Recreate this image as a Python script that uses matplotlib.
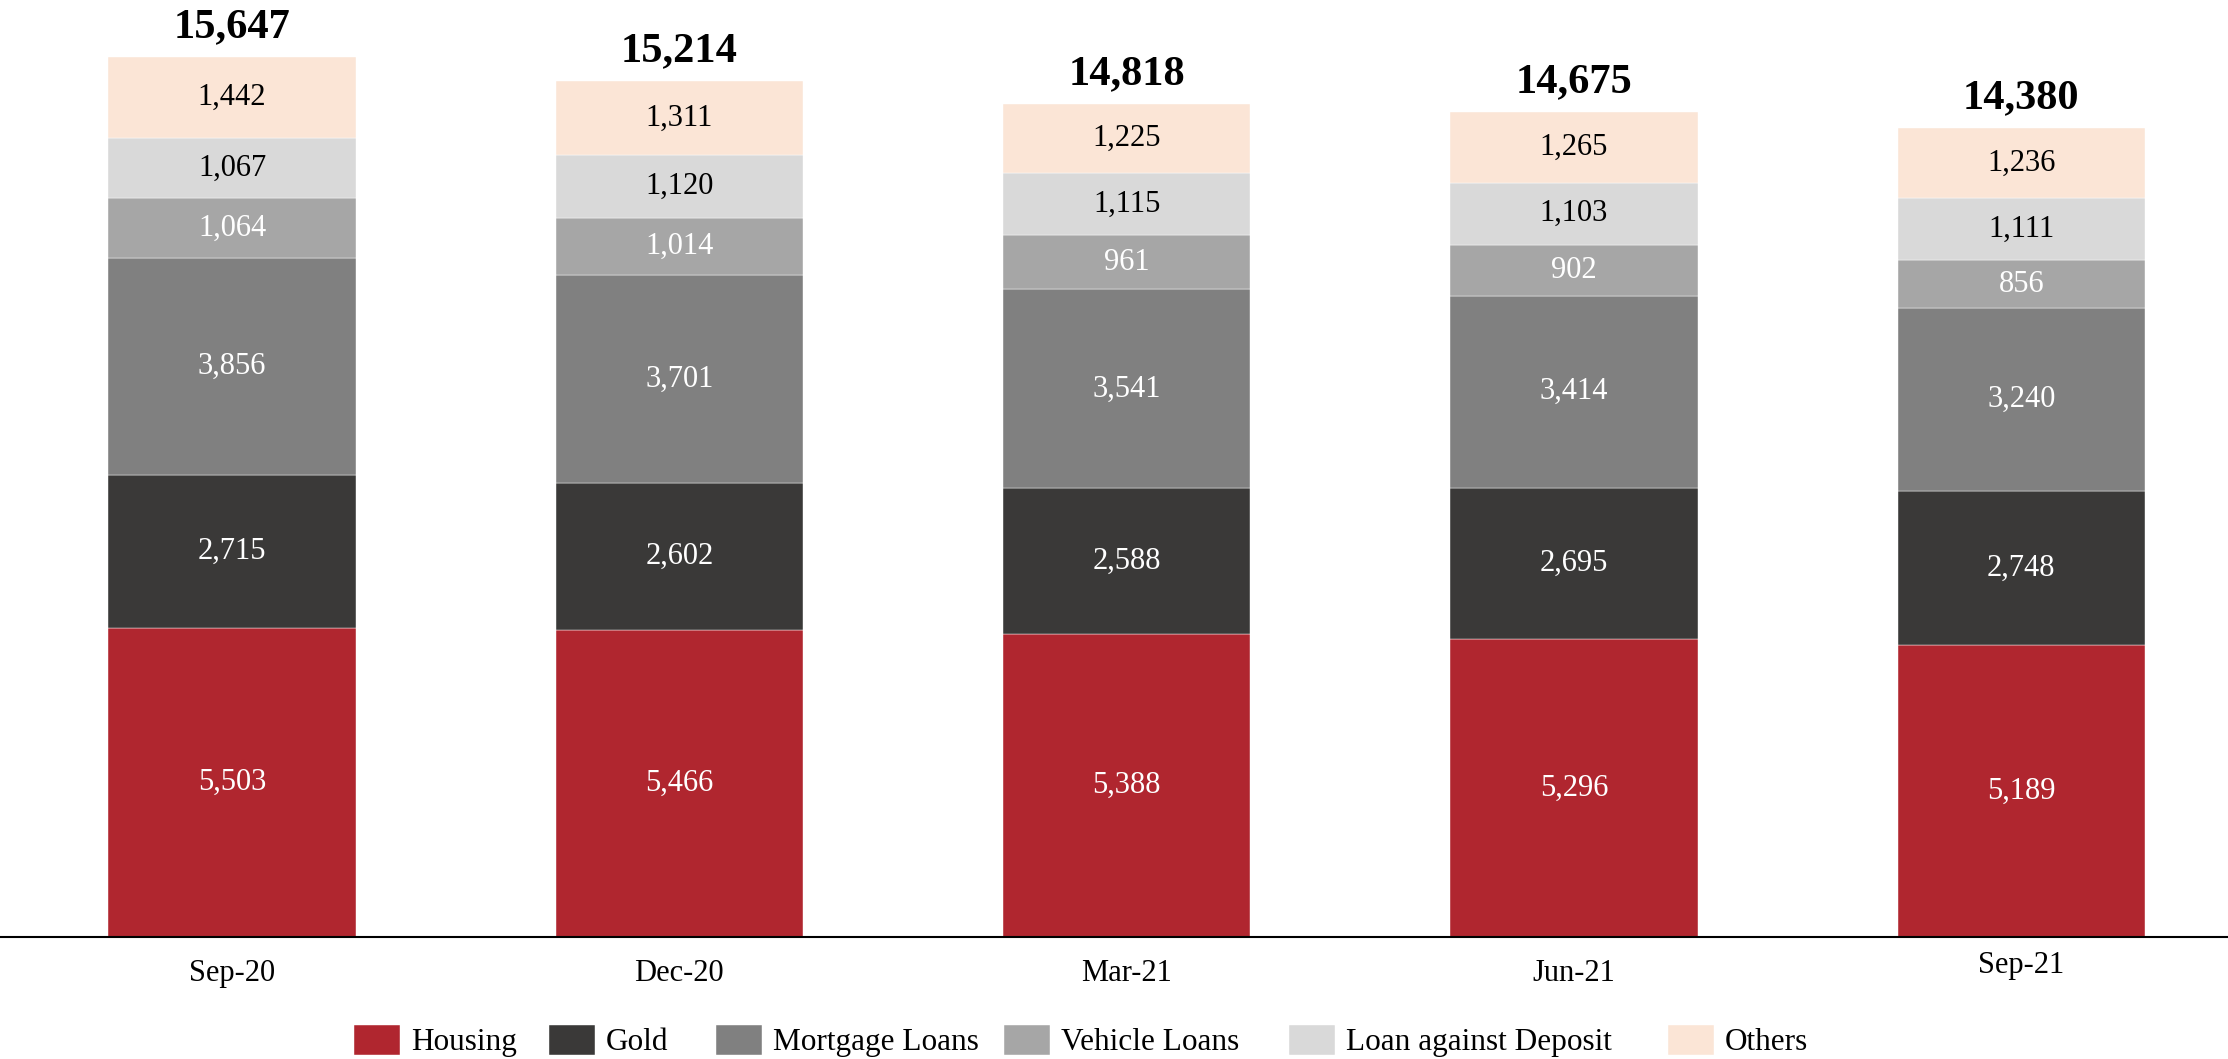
import matplotlib
matplotlib.use("Agg")
import matplotlib.pyplot as plt
from matplotlib.transforms import ScaledTranslation
import numpy as np

plt.rcParams['font.family'] = ['Liberation Serif', 'DejaVu Serif']

categories = ["Sep-20", "Dec-20", "Mar-21", "Jun-21", "Sep-21"]
series_names = ["Housing", "Gold", "Mortgage Loans", "Vehicle Loans", "Loan against Deposit", "Others"]
housing = [5503, 5466, 5388, 5296, 5189]
gold = [2715, 2602, 2588, 2695, 2748]
mortgage = [3856, 3701, 3541, 3414, 3240]
vehicle = [1064, 1014, 961, 902, 856]
deposit = [1067, 1120, 1115, 1103, 1111]
others = [1442, 1311, 1225, 1265, 1236]
totals = [15647, 15214, 14818, 14675, 14380]

colors = ["#B0262F", "#3A3938", "#808080", "#A6A6A6", "#D9D9D9", "#FBE5D6"]
label_colors = ["white", "white", "white", "white", "black", "black"]

W, H = 2228, 1059
fig = plt.figure(figsize=(W / 100, H / 100), dpi=100)
ax = fig.add_axes([0.0, 122 / H, 1.0, 1 - 122 / H])

x = np.arange(len(categories))
data = [housing, gold, mortgage, vehicle, deposit, others]
bottom = np.zeros(len(categories))
handles = []
for vals, name, c, lc in zip(data, series_names, colors, label_colors):
    vals = np.array(vals, dtype=float)
    bars = ax.bar(x, vals, width=0.553, bottom=bottom, color=c, edgecolor="white",
                  linewidth=0.3, label=name)
    handles.append(bars)
    for xi, v, b in zip(x, vals, bottom):
        ax.text(xi, b + v / 2, f"{int(v):,}", ha="center", va="center",
                color=lc, fontsize=22)
    bottom += vals

for xi, t, top in zip(x, totals, bottom):
    ax.annotate(f"{t:,}", (xi, top), xytext=(0, 21.5), textcoords="offset points",
                ha="center", va="center", fontsize=30.5, fontweight="bold", color="black")

x0 = 236.5
step = 446.3
ax.set_xlim((5 - x0) / step, (W - x0) / step)
ax.set_ylim(0, 937 / (880 / 15647))

ax.set_xticks(x)
ax.set_xticklabels(categories, fontsize=22)
ax.tick_params(axis="x", length=0, pad=16)
ax.set_yticks([])
for s in ["top", "right", "left"]:
    ax.spines[s].set_visible(False)
ax.spines["bottom"].set_linewidth(1.5)
ax.spines["bottom"].set_color("black")

lbls = ax.get_xticklabels()
lbls[-1].set_transform(lbls[-1].get_transform() + ScaledTranslation(0, 6 / 72, fig.dpi_scale_trans))

# legend entries placed individually (irregular spacing as in the reference)
legend_x_px = [354, 549, 716, 1004, 1289, 1668]
for h, name, px in zip(handles, series_names, legend_x_px):
    fig.legend(handles=[h], labels=[name], loc="center left",
               bbox_to_anchor=(px / W, 1 - 1041 / H), frameon=False,
               borderpad=0, borderaxespad=0,
               fontsize=22.5, handlelength=1.47, handleheight=1.09, handletextpad=0.35)

fig.savefig("out.png", dpi=100)
